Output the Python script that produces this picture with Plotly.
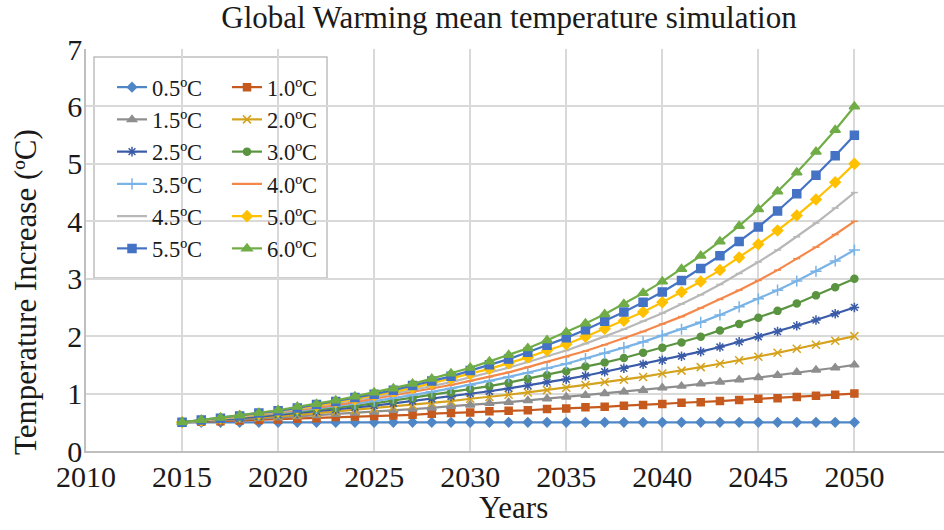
import plotly.graph_objects as go

years = list(range(2015, 2051))

s05 = [0.50, 0.50, 0.50, 0.50, 0.50, 0.50, 0.50, 0.50, 0.50, 0.50, 0.50, 0.50,
       0.50, 0.50, 0.50, 0.50, 0.50, 0.50, 0.50, 0.50, 0.50, 0.50, 0.50, 0.50,
       0.50, 0.50, 0.50, 0.50, 0.50, 0.50, 0.50, 0.50, 0.50, 0.50, 0.50, 0.50]
s10 = [0.50, 0.51, 0.52, 0.53, 0.54, 0.55, 0.56, 0.57, 0.59, 0.60, 0.61, 0.62,
       0.63, 0.65, 0.66, 0.67, 0.69, 0.70, 0.71, 0.73, 0.74, 0.76, 0.77, 0.79,
       0.80, 0.82, 0.84, 0.85, 0.87, 0.89, 0.91, 0.92, 0.94, 0.96, 0.98, 1.00]
s15 = [0.50, 0.52, 0.53, 0.55, 0.57, 0.58, 0.60, 0.62, 0.64, 0.66, 0.68, 0.71,
       0.73, 0.75, 0.78, 0.80, 0.83, 0.85, 0.88, 0.91, 0.94, 0.97, 1.00, 1.03,
       1.06, 1.10, 1.13, 1.17, 1.20, 1.24, 1.28, 1.32, 1.37, 1.41, 1.45, 1.50]
s20 = [0.50, 0.52, 0.54, 0.56, 0.59, 0.61, 0.63, 0.66, 0.69, 0.71, 0.74, 0.77,
       0.80, 0.84, 0.87, 0.91, 0.94, 0.98, 1.02, 1.06, 1.10, 1.15, 1.20, 1.24,
       1.29, 1.35, 1.40, 1.46, 1.52, 1.58, 1.64, 1.71, 1.78, 1.85, 1.92, 2.00]
s25 = [0.50, 0.52, 0.55, 0.57, 0.60, 0.63, 0.66, 0.69, 0.72, 0.76, 0.79, 0.83,
       0.87, 0.91, 0.95, 1.00, 1.04, 1.09, 1.14, 1.20, 1.25, 1.31, 1.38, 1.44,
       1.51, 1.58, 1.65, 1.73, 1.81, 1.90, 1.99, 2.08, 2.18, 2.28, 2.39, 2.50]
s30 = [0.50, 0.53, 0.55, 0.58, 0.61, 0.65, 0.68, 0.72, 0.75, 0.79, 0.83, 0.88,
       0.92, 0.97, 1.02, 1.08, 1.13, 1.19, 1.26, 1.32, 1.39, 1.47, 1.54, 1.62,
       1.71, 1.80, 1.89, 1.99, 2.10, 2.21, 2.32, 2.44, 2.57, 2.71, 2.85, 3.00]
s35 = [0.50, 0.53, 0.56, 0.59, 0.62, 0.66, 0.70, 0.74, 0.78, 0.82, 0.87, 0.92,
       0.97, 1.03, 1.09, 1.15, 1.22, 1.29, 1.36, 1.44, 1.52, 1.61, 1.70, 1.80,
       1.90, 2.01, 2.12, 2.24, 2.37, 2.51, 2.65, 2.80, 2.96, 3.13, 3.31, 3.50]
s40 = [0.50, 0.53, 0.56, 0.60, 0.63, 0.67, 0.71, 0.76, 0.80, 0.85, 0.91, 0.96,
       1.02, 1.08, 1.15, 1.22, 1.29, 1.37, 1.46, 1.55, 1.64, 1.74, 1.85, 1.96,
       2.08, 2.21, 2.34, 2.49, 2.64, 2.80, 2.97, 3.15, 3.35, 3.55, 3.77, 4.00]
s45 = [0.50, 0.53, 0.57, 0.60, 0.64, 0.68, 0.73, 0.78, 0.83, 0.88, 0.94, 1.00,
       1.06, 1.13, 1.20, 1.28, 1.37, 1.45, 1.55, 1.65, 1.75, 1.87, 1.99, 2.12,
       2.26, 2.40, 2.56, 2.72, 2.90, 3.09, 3.29, 3.50, 3.73, 3.97, 4.23, 4.50]
s50 = [0.50, 0.53, 0.57, 0.61, 0.65, 0.69, 0.74, 0.79, 0.85, 0.90, 0.97, 1.03,
       1.10, 1.18, 1.26, 1.34, 1.43, 1.53, 1.63, 1.75, 1.86, 1.99, 2.13, 2.27,
       2.42, 2.59, 2.77, 2.95, 3.15, 3.37, 3.60, 3.84, 4.10, 4.38, 4.68, 5.00]
s55 = [0.50, 0.54, 0.57, 0.61, 0.66, 0.70, 0.75, 0.81, 0.86, 0.93, 0.99, 1.06,
       1.14, 1.22, 1.30, 1.40, 1.50, 1.60, 1.72, 1.84, 1.97, 2.11, 2.26, 2.42,
       2.59, 2.77, 2.97, 3.18, 3.40, 3.65, 3.90, 4.18, 4.48, 4.80, 5.14, 5.50]
s60 = [0.50, 0.54, 0.58, 0.62, 0.66, 0.71, 0.77, 0.82, 0.88, 0.95, 1.02, 1.09,
       1.17, 1.26, 1.35, 1.45, 1.56, 1.67, 1.79, 1.93, 2.07, 2.22, 2.38, 2.56,
       2.75, 2.95, 3.17, 3.40, 3.65, 3.92, 4.21, 4.52, 4.85, 5.21, 5.59, 6.00]

names = ["0.5ºC", "1.0ºC", "1.5ºC", "2.0ºC", "2.5ºC", "3.0ºC",
         "3.5ºC", "4.0ºC", "4.5ºC", "5.0ºC", "5.5ºC", "6.0ºC"]
series = [s05, s10, s15, s20, s25, s30, s35, s40, s45, s50, s55, s60]
colors = ["#4F87C6", "#C65A1E", "#8E8E8E", "#D4A21C", "#3A5BA8", "#5A9440",
          "#7AB3E6", "#F4884A", "#B8B8B8", "#FFC000", "#4472C4", "#70AD47"]
symbols = ["diamond", "square", "triangle-up", "x-thin-open", "asterisk-open", "circle",
           "cross-thin-open", "line-ew-open", "line-ew-open", "diamond", "square", "triangle-up"]
sizes = [7, 7, 8, 8, 8, 7, 8, 5, 5, 8, 8, 9]

title_text = "Global Warming mean temperature simulation"
x_title = "Years"
y_title = "Temperature Increase (ºC)"
x_ticks = [2010, 2015, 2020, 2025, 2030, 2035, 2040, 2045, 2050]
y_ticks = [0, 1, 2, 3, 4, 5, 6, 7]

FONT = "Liberation Serif, Times New Roman, serif"
W, H = 944, 530
L, R, T, B = 86, 0, 49, 79
PW, PH = W - L - R, H - T - B


def px_x(px):
    return (px - L) / PW


def px_y(py):
    return (H - B - py) / PH


fig = go.Figure()
for i, (nm, ys) in enumerate(zip(names, series)):
    c = colors[i]
    fig.add_trace(go.Scatter(
        x=years, y=ys, name=nm, mode="lines+markers",
        line=dict(color=c, width=2.2),
        marker=dict(symbol=symbols[i], size=sizes[i], color=c,
                    line=dict(color=c, width=1.5)),
        legend="legend" if i % 2 == 0 else "legend2",
    ))

legend_common = dict(
    xanchor="left", yanchor="top", bgcolor="rgba(0,0,0,0)", borderwidth=0,
    font=dict(family=FONT, size=22.5, color="#1a1a1a"), tracegroupgap=0,
    itemwidth=30,
)

fig.update_layout(
    width=W, height=H,
    margin=dict(l=L, r=R, t=T, b=B, autoexpand=False),
    paper_bgcolor="white", plot_bgcolor="white",
    font=dict(family=FONT, color="#1a1a1a"),
    title=dict(text=title_text, x=509 / W, xanchor="center", xref="container",
               y=1 - 6 / H, yanchor="top", yref="container",
               font=dict(family=FONT, size=31, color="#1a1a1a")),
    showlegend=True,
    legend=dict(x=px_x(112), y=px_y(66), **legend_common),
    legend2=dict(x=px_x(227), y=px_y(66), **legend_common),
    xaxis=dict(range=[2010, 2010 + PW / 19.21], tickmode="array", tickvals=x_ticks,
               ticktext=[str(v) for v in x_ticks], automargin=False,
               showgrid=True, gridcolor="#D9D9D9", gridwidth=1.5,
               showline=True, linecolor="#BFBFBF", linewidth=1.5,
               zeroline=False, ticks="", ticklabelstandoff=-2,
               tickfont=dict(family=FONT, size=30, color="#1a1a1a")),
    yaxis=dict(range=[0, 7], tickmode="array", tickvals=y_ticks, automargin=False,
               showgrid=True, gridcolor="#D9D9D9", gridwidth=1.5,
               showline=True, linecolor="#BFBFBF", linewidth=1.5,
               zeroline=False, ticks="", ticklabelstandoff=-4,
               tickfont=dict(family=FONT, size=30, color="#1a1a1a")),
    shapes=[dict(type="rect", xref="paper", yref="paper",
                 x0=px_x(94), x1=px_x(327), y0=px_y(278), y1=px_y(57),
                 line=dict(color="#BFBFBF", width=1.5), fillcolor="white", layer="below")],
    annotations=[
        dict(text=x_title, xref="paper", yref="paper", x=px_x(513), y=px_y(507),
             xanchor="center", yanchor="middle", showarrow=False,
             font=dict(family=FONT, size=31, color="#1a1a1a")),
        dict(text=y_title, xref="paper", yref="paper", x=px_x(25), y=px_y(292),
             xanchor="center", yanchor="middle", showarrow=False, textangle=-90,
             font=dict(family=FONT, size=31, color="#1a1a1a")),
    ],
)

fig.write_html("out.html", config={"displayModeBar": False},
               post_script="document.body.style.margin='0';")
